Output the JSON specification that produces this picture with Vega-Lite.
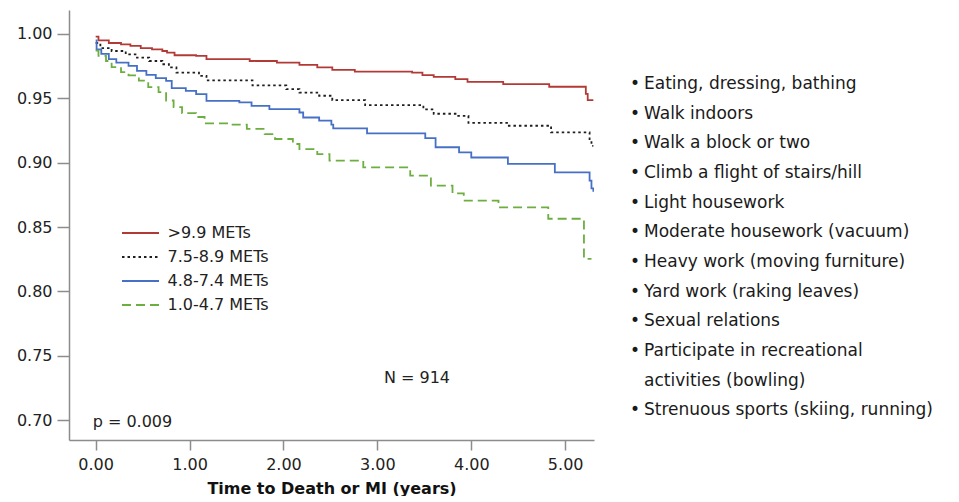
{
  "$schema": "https://vega.github.io/schema/vega-lite/v6.json",
  "autosize": {"type": "pad"},
  "padding": {"left": 16, "top": 10, "right": 0, "bottom": 0},
  "background": "white",
  "spacing": 36,
  "config": {
    "font": "DejaVu Sans",
    "view": {"stroke": null},
    "axis": {
      "grid": false,
      "domainColor": "#8c8c8c",
      "tickColor": "#8c8c8c",
      "domainWidth": 1.5,
      "tickWidth": 1.5,
      "labelFont": "DejaVu Sans",
      "labelFontSize": 16,
      "labelColor": "#222222",
      "titleFont": "DejaVu Sans",
      "titleColor": "#111111"
    },
    "legend": {
      "orient": "none",
      "legendX": 53,
      "legendY": 215,
      "direction": "vertical",
      "padding": 0,
      "symbolType": "M-4,0H4",
      "symbolSize": 85.56,
      "symbolStrokeWidth": 1.8,
      "symbolOffset": 10.5,
      "labelOffset": 19,
      "labelFont": "DejaVu Sans",
      "labelFontSize": 16,
      "labelColor": "#222222",
      "rowPadding": 8
    }
  },
  "hconcat": [
    {
      "width": 525,
      "height": 430,
      "layer": [
        {
          "data": {
            "values": [
              {"group": ">9.9 METs", "time": 0, "survival": 0.998},
              {"group": ">9.9 METs", "time": 0.03, "survival": 0.995},
              {"group": ">9.9 METs", "time": 0.14, "survival": 0.993},
              {"group": ">9.9 METs", "time": 0.27, "survival": 0.992},
              {"group": ">9.9 METs", "time": 0.37, "survival": 0.9907},
              {"group": ">9.9 METs", "time": 0.48, "survival": 0.989},
              {"group": ">9.9 METs", "time": 0.6, "survival": 0.988},
              {"group": ">9.9 METs", "time": 0.71, "survival": 0.9868},
              {"group": ">9.9 METs", "time": 0.76, "survival": 0.9855},
              {"group": ">9.9 METs", "time": 0.84, "survival": 0.9835},
              {"group": ">9.9 METs", "time": 1.07, "survival": 0.983},
              {"group": ">9.9 METs", "time": 1.18, "survival": 0.9804},
              {"group": ">9.9 METs", "time": 1.64, "survival": 0.979},
              {"group": ">9.9 METs", "time": 1.93, "survival": 0.9777},
              {"group": ">9.9 METs", "time": 2.17, "survival": 0.976},
              {"group": ">9.9 METs", "time": 2.36, "survival": 0.974},
              {"group": ">9.9 METs", "time": 2.52, "survival": 0.9721},
              {"group": ">9.9 METs", "time": 2.76, "survival": 0.9707},
              {"group": ">9.9 METs", "time": 3.37, "survival": 0.97},
              {"group": ">9.9 METs", "time": 3.48, "survival": 0.968},
              {"group": ">9.9 METs", "time": 3.6, "survival": 0.9667},
              {"group": ">9.9 METs", "time": 3.83, "survival": 0.9649},
              {"group": ">9.9 METs", "time": 3.96, "survival": 0.9628},
              {"group": ">9.9 METs", "time": 4.34, "survival": 0.961},
              {"group": ">9.9 METs", "time": 4.83, "survival": 0.959},
              {"group": ">9.9 METs", "time": 5.22, "survival": 0.9535},
              {"group": ">9.9 METs", "time": 5.24, "survival": 0.9486},
              {"group": ">9.9 METs", "time": 5.3, "survival": 0.9486},

              {"group": "7.5-8.9 METs", "time": 0, "survival": 0.993},
              {"group": "7.5-8.9 METs", "time": 0.05, "survival": 0.989},
              {"group": "7.5-8.9 METs", "time": 0.17, "survival": 0.9868},
              {"group": "7.5-8.9 METs", "time": 0.32, "survival": 0.9842},
              {"group": "7.5-8.9 METs", "time": 0.44, "survival": 0.9816},
              {"group": "7.5-8.9 METs", "time": 0.57, "survival": 0.979},
              {"group": "7.5-8.9 METs", "time": 0.71, "survival": 0.9765},
              {"group": "7.5-8.9 METs", "time": 0.78, "survival": 0.974},
              {"group": "7.5-8.9 METs", "time": 0.86, "survival": 0.97},
              {"group": "7.5-8.9 METs", "time": 1.1, "survival": 0.9675},
              {"group": "7.5-8.9 METs", "time": 1.18, "survival": 0.964},
              {"group": "7.5-8.9 METs", "time": 1.67, "survival": 0.96},
              {"group": "7.5-8.9 METs", "time": 2.03, "survival": 0.9571},
              {"group": "7.5-8.9 METs", "time": 2.17, "survival": 0.9545},
              {"group": "7.5-8.9 METs", "time": 2.38, "survival": 0.952},
              {"group": "7.5-8.9 METs", "time": 2.52, "survival": 0.9486},
              {"group": "7.5-8.9 METs", "time": 2.87, "survival": 0.9447},
              {"group": "7.5-8.9 METs", "time": 3.49, "survival": 0.9414},
              {"group": "7.5-8.9 METs", "time": 3.6, "survival": 0.938},
              {"group": "7.5-8.9 METs", "time": 3.85, "survival": 0.9364},
              {"group": "7.5-8.9 METs", "time": 3.97, "survival": 0.931},
              {"group": "7.5-8.9 METs", "time": 4.39, "survival": 0.9287},
              {"group": "7.5-8.9 METs", "time": 4.85, "survival": 0.9235},
              {"group": "7.5-8.9 METs", "time": 5.26, "survival": 0.917},
              {"group": "7.5-8.9 METs", "time": 5.28, "survival": 0.913},
              {"group": "7.5-8.9 METs", "time": 5.3, "survival": 0.913},

              {"group": "4.8-7.4 METs", "time": 0, "survival": 0.995},
              {"group": "4.8-7.4 METs", "time": 0.01, "survival": 0.988},
              {"group": "4.8-7.4 METs", "time": 0.06, "survival": 0.9845},
              {"group": "4.8-7.4 METs", "time": 0.14, "survival": 0.9804},
              {"group": "4.8-7.4 METs", "time": 0.22, "survival": 0.9778},
              {"group": "4.8-7.4 METs", "time": 0.35, "survival": 0.9752},
              {"group": "4.8-7.4 METs", "time": 0.44, "survival": 0.9713},
              {"group": "4.8-7.4 METs", "time": 0.54, "survival": 0.9682},
              {"group": "4.8-7.4 METs", "time": 0.64, "survival": 0.9657},
              {"group": "4.8-7.4 METs", "time": 0.75, "survival": 0.9636},
              {"group": "4.8-7.4 METs", "time": 0.81, "survival": 0.958},
              {"group": "4.8-7.4 METs", "time": 0.96, "survival": 0.9558},
              {"group": "4.8-7.4 METs", "time": 1.07, "survival": 0.9532},
              {"group": "4.8-7.4 METs", "time": 1.18, "survival": 0.948},
              {"group": "4.8-7.4 METs", "time": 1.53, "survival": 0.9468},
              {"group": "4.8-7.4 METs", "time": 1.66, "survival": 0.9442},
              {"group": "4.8-7.4 METs", "time": 1.85, "survival": 0.9416},
              {"group": "4.8-7.4 METs", "time": 2.17, "survival": 0.939},
              {"group": "4.8-7.4 METs", "time": 2.21, "survival": 0.9351},
              {"group": "4.8-7.4 METs", "time": 2.38, "survival": 0.9326},
              {"group": "4.8-7.4 METs", "time": 2.51, "survival": 0.9295},
              {"group": "4.8-7.4 METs", "time": 2.53, "survival": 0.9266},
              {"group": "4.8-7.4 METs", "time": 2.89, "survival": 0.9227},
              {"group": "4.8-7.4 METs", "time": 3.51, "survival": 0.919},
              {"group": "4.8-7.4 METs", "time": 3.62, "survival": 0.912},
              {"group": "4.8-7.4 METs", "time": 3.87, "survival": 0.908},
              {"group": "4.8-7.4 METs", "time": 4.0, "survival": 0.904},
              {"group": "4.8-7.4 METs", "time": 4.39, "survival": 0.899},
              {"group": "4.8-7.4 METs", "time": 4.89, "survival": 0.8925},
              {"group": "4.8-7.4 METs", "time": 5.26, "survival": 0.886},
              {"group": "4.8-7.4 METs", "time": 5.28, "survival": 0.88},
              {"group": "4.8-7.4 METs", "time": 5.3, "survival": 0.878},
              {"group": "4.8-7.4 METs", "time": 5.33, "survival": 0.878},

              {"group": "1.0-4.7 METs", "time": 0, "survival": 0.987},
              {"group": "1.0-4.7 METs", "time": 0.03, "survival": 0.983},
              {"group": "1.0-4.7 METs", "time": 0.11, "survival": 0.979},
              {"group": "1.0-4.7 METs", "time": 0.17, "survival": 0.9742},
              {"group": "1.0-4.7 METs", "time": 0.27, "survival": 0.9703},
              {"group": "1.0-4.7 METs", "time": 0.35, "survival": 0.9678},
              {"group": "1.0-4.7 METs", "time": 0.46, "survival": 0.9638},
              {"group": "1.0-4.7 METs", "time": 0.56, "survival": 0.9587},
              {"group": "1.0-4.7 METs", "time": 0.67, "survival": 0.9548},
              {"group": "1.0-4.7 METs", "time": 0.75, "survival": 0.9483},
              {"group": "1.0-4.7 METs", "time": 0.83, "survival": 0.9432},
              {"group": "1.0-4.7 METs", "time": 0.92, "survival": 0.9385},
              {"group": "1.0-4.7 METs", "time": 1.07, "survival": 0.9355},
              {"group": "1.0-4.7 METs", "time": 1.16, "survival": 0.9305},
              {"group": "1.0-4.7 METs", "time": 1.43, "survival": 0.9295},
              {"group": "1.0-4.7 METs", "time": 1.61, "survival": 0.9262},
              {"group": "1.0-4.7 METs", "time": 1.8, "survival": 0.9222},
              {"group": "1.0-4.7 METs", "time": 1.91, "survival": 0.9184},
              {"group": "1.0-4.7 METs", "time": 2.1, "survival": 0.9145},
              {"group": "1.0-4.7 METs", "time": 2.17, "survival": 0.9106},
              {"group": "1.0-4.7 METs", "time": 2.36, "survival": 0.9067},
              {"group": "1.0-4.7 METs", "time": 2.49, "survival": 0.9016},
              {"group": "1.0-4.7 METs", "time": 2.85, "survival": 0.8964},
              {"group": "1.0-4.7 METs", "time": 3.35, "survival": 0.89},
              {"group": "1.0-4.7 METs", "time": 3.57, "survival": 0.8822},
              {"group": "1.0-4.7 METs", "time": 3.8, "survival": 0.8762},
              {"group": "1.0-4.7 METs", "time": 3.92, "survival": 0.8705},
              {"group": "1.0-4.7 METs", "time": 4.29, "survival": 0.8653},
              {"group": "1.0-4.7 METs", "time": 4.82, "survival": 0.8564},
              {"group": "1.0-4.7 METs", "time": 5.2, "survival": 0.8253},
              {"group": "1.0-4.7 METs", "time": 5.28, "survival": 0.8253}
            ]
          },
          "mark": {"type": "line", "interpolate": "step-after", "strokeWidth": 1.8, "clip": true},
          "encoding": {
            "x": {
              "field": "time",
              "type": "quantitative",
              "scale": {"domain": [-0.284, 5.307], "nice": false, "zero": false},
              "axis": {
                "values": [0, 1, 2, 3, 4, 5],
                "format": ".2f",
                "title": "Time to Death or MI (years)",
                "tickSize": 10,
                "labelPadding": 6,
                "titleFontSize": 16,
                "titleFontWeight": "bold",
                "titlePadding": 8
              }
            },
            "y": {
              "field": "survival",
              "type": "quantitative",
              "scale": {"domain": [0.68446, 1.01865], "nice": false, "zero": false},
              "axis": {
                "values": [0.7, 0.75, 0.8, 0.85, 0.9, 0.95, 1.0],
                "format": ".2f",
                "title": null,
                "tickSize": 12,
                "labelPadding": 5
              }
            },
            "color": {
              "field": "group",
              "type": "nominal",
              "scale": {
                "domain": [">9.9 METs", "7.5-8.9 METs", "4.8-7.4 METs", "1.0-4.7 METs"],
                "range": ["#b23a36", "#1e1e1e", "#4670c6", "#6cae40"]
              },
              "legend": {"title": null}
            },
            "strokeDash": {
              "field": "group",
              "type": "nominal",
              "scale": {
                "domain": [">9.9 METs", "7.5-8.9 METs", "4.8-7.4 METs", "1.0-4.7 METs"],
                "range": [[1, 0], [2.5, 3], [1, 0], [9, 5]]
              },
              "legend": {"title": null}
            }
          }
        },
        {
          "data": {"values": [{"note": "N = 914"}]},
          "mark": {"type": "text", "align": "left", "baseline": "middle", "fontSize": 16, "color": "#222222"},
          "encoding": {
            "x": {"datum": 3.07, "type": "quantitative"},
            "y": {"datum": 0.7327, "type": "quantitative"},
            "text": {"field": "note"}
          }
        },
        {
          "data": {"values": [{"note": "p = 0.009"}]},
          "mark": {"type": "text", "align": "left", "baseline": "middle", "fontSize": 16, "color": "#222222"},
          "encoding": {
            "x": {"datum": -0.032, "type": "quantitative"},
            "y": {"datum": 0.6985, "type": "quantitative"},
            "text": {"field": "note"}
          }
        }
      ]
    },
    {
      "width": 320,
      "height": 415,
      "data": {
        "values": [
          {"line": "Eating, dressing, bathing", "bullet": true},
          {"line": "Walk indoors", "bullet": true},
          {"line": "Walk a block or two", "bullet": true},
          {"line": "Climb a flight of stairs/hill", "bullet": true},
          {"line": "Light housework", "bullet": true},
          {"line": "Moderate housework (vacuum)", "bullet": true},
          {"line": "Heavy work (moving furniture)", "bullet": true},
          {"line": "Yard work (raking leaves)", "bullet": true},
          {"line": "Sexual relations", "bullet": true},
          {"line": "Participate in recreational", "bullet": true},
          {"line": "activities (bowling)", "bullet": false},
          {"line": "Strenuous sports (skiing, running)", "bullet": true}
        ]
      },
      "layer": [
        {
          "mark": {"type": "text", "align": "left", "baseline": "middle", "fontSize": 17, "color": "#1a1a1a"},
          "encoding": {
            "x": {"datum": 0, "type": "quantitative", "scale": {"domain": [0, 1]}, "axis": null},
            "y": {"field": "line", "type": "nominal", "sort": null, "scale": {"type": "band", "paddingInner": 0, "paddingOuter": 1, "align": 1}, "axis": null},
            "text": {"condition": {"test": "datum.bullet", "value": "•"}, "value": ""}
          }
        },
        {
          "mark": {"type": "text", "align": "left", "baseline": "middle", "fontSize": 17, "color": "#1a1a1a", "dx": 14},
          "encoding": {
            "x": {"datum": 0, "type": "quantitative", "scale": {"domain": [0, 1]}, "axis": null},
            "y": {"field": "line", "type": "nominal", "sort": null, "scale": {"type": "band", "paddingInner": 0, "paddingOuter": 1, "align": 1}, "axis": null},
            "text": {"field": "line"}
          }
        }
      ]
    }
  ]
}
